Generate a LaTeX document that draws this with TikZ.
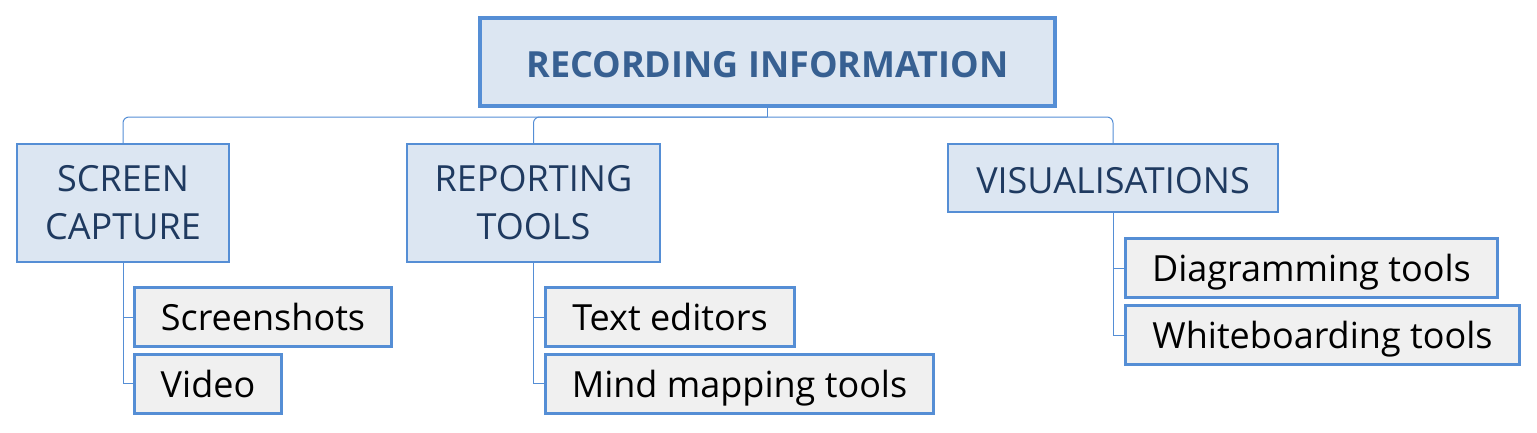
\documentclass[tikz,border=0pt]{standalone}
\usepackage{fontspec}
\setmainfont{Open Sans}
\definecolor{boxline}{HTML}{558ED5}
\definecolor{headfill}{HTML}{DCE6F2}
\definecolor{headtext}{HTML}{376092}
\definecolor{subtext}{HTML}{1F3A60}
\definecolor{leaffill}{HTML}{F0F0F0}
\tikzset{
    title/.style={draw=boxline, line width=4pt, fill=headfill, text=headtext,
        font=\fontsize{36}{48}\selectfont\bfseries, minimum width=575pt, minimum height=88pt,
        text height=32pt, text depth=2pt},
    branch/.style={draw=boxline, line width=2pt, fill=headfill, text=subtext,
        font=\fontsize{36}{48}\selectfont, align=center, minimum height=118pt},
    oneline/.style={minimum height=68pt, text height=32pt, text depth=2pt},
    leaf/.style={draw=boxline, line width=3pt, fill=leaffill, text=black,
        font=\fontsize{36}{48}\selectfont, minimum height=59pt,
        text height=31pt, text depth=4pt},
    link/.style={draw=boxline, line width=1pt}
}
\begin{document}
\begin{tikzpicture}[x=1pt, y=-1pt]
        \useasboundingbox (0,0) rectangle (1537,432);
        \node[title] (rec) at (767.5,62) {RECORDING INFORMATION};
        \node[branch, minimum width=212pt] (capture) at (123,203) {SCREEN\\CAPTURE};
        \node[branch, minimum width=253pt] (report) at (533.5,203) {REPORTING\\TOOLS};
        \node[branch, oneline, minimum width=330pt] (visual) at (1113,178) {VISUALISATIONS};
        % leaves
        \node[leaf, minimum width=257pt] (shots) at (263,317) {Screenshots};
        \node[leaf, minimum width=147pt] (video) at (208,383.5) {Video};
        \node[leaf, minimum width=249pt] (editors) at (670,317) {Text editors};
        \node[leaf, minimum width=388pt] (mindmap) at (739.5,383.5) {Mind mapping tools};
        \node[leaf, minimum width=372pt] (diagram) at (1311.5,268) {Diagramming tools};
        \node[leaf, minimum width=394pt] (white) at (1322.5,335) {Whiteboarding tools};
        % connectors
        \coordinate (bus) at (767.5,117);
        \draw[link] (rec.south) -- (bus);
        \foreach \b in {capture,report,visual}
            \draw[link, rounded corners=6pt] (bus) -| (\b.north);
        \draw[link] (capture.south) |- (shots.west);
        \draw[link] (capture.south) |- (video.west);
        \draw[link] (report.south) |- (editors.west);
        \draw[link] (report.south) |- (mindmap.west);
        \draw[link] (visual.south) |- (diagram.west);
        \draw[link] (visual.south) |- (white.west);
\end{tikzpicture}
\end{document}
